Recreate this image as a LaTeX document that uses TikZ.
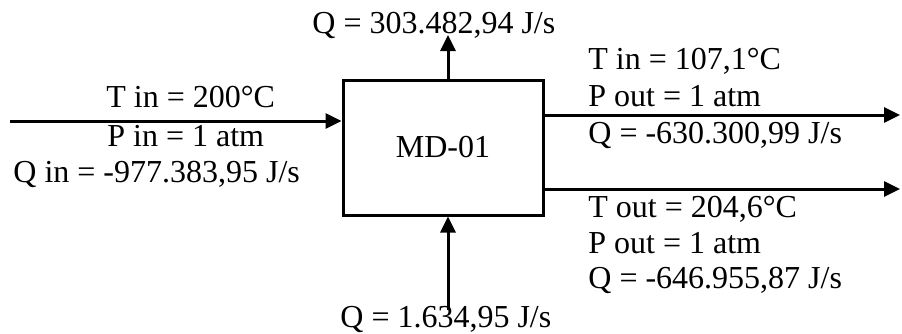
\documentclass[tikz,border=0pt]{standalone}
\usepackage{fontspec}
\setmainfont{Liberation Serif}
\usetikzlibrary{positioning}
\usetikzlibrary{calc}
\usetikzlibrary{arrows.meta}

\begin{document}
\begin{tikzpicture}[x=0.5pt,y=-0.5pt
    ,every node/.style={font=\fontsize{16}{18.5}\selectfont}
    ,lbl/.style={anchor=base west,inner sep=0pt}
    ,flow/.style={line width=1.5pt,-{Triangle[length=8pt,width=7.5pt]}}
    ]
  \useasboundingbox (0,0) rectangle (902,333);
  \node[draw,line width=1.5pt,minimum width=100pt,minimum height=67.5pt] (md) at (443,147.5) {MD-01};
  % feed and heat
  \coordinate (feed) at (10,121);
  \coordinate (qup) at (448,35);
  \coordinate (qdown) at (448,310);
  \coordinate (top) at (900,115);
  \coordinate (bottom) at (900,189);
  \draw[flow] (feed) -- (feed -| md.west);
  \draw[flow] (md.north -| qup) -- (qup);
  \draw[flow] (qdown) -- (md.south -| qdown);
  \draw[flow] (md.east |- top) -- (top);
  \draw[flow] (md.east |- bottom) -- (bottom);
  % labels
  \node[lbl] (feedT) at (106,107) {T in = 200°C};
  \node[lbl] (feedP) at (107,146) {P in = 1 atm};
  \node[lbl] (feedQ) at (13,182) {Q in = -977.383,95 J/s};
  \node[lbl] (qcond) at (312,33) {Q = 303.482,94 J/s};
  \node[lbl] (qreb) at (340,327) {Q = 1.634,95 J/s};
  \node[lbl] (topT) at (588,69) {T in = 107,1°C};
  \node[lbl] (topP) at (588,106) {P out = 1 atm};
  \node[lbl] (topQ) at (588,143) {Q = -630.300,99 J/s};
  \node[lbl] (botT) at (588,217) {T out = 204,6°C};
  \node[lbl] (botP) at (588,253) {P out = 1 atm};
  \node[lbl] (botQ) at (588,288) {Q = -646.955,87 J/s};
\end{tikzpicture}
\end{document}
